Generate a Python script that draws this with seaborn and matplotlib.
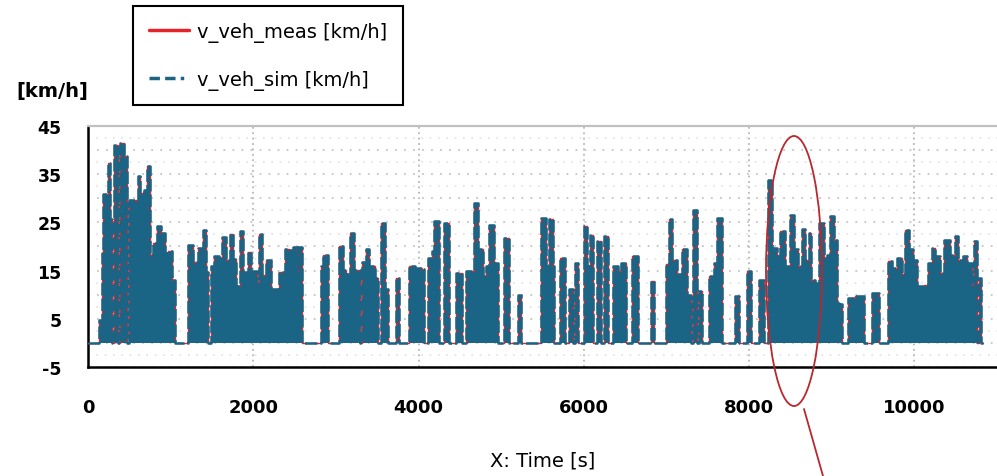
import numpy as np
import matplotlib
matplotlib.use("Agg")
import matplotlib.pyplot as plt
from matplotlib.patches import Ellipse
from matplotlib.lines import Line2D
import seaborn as sns

# Speed trace (step breakpoints: time [s] -> speed [km/h])
time_s = [
    0, 133, 165, 185, 238, 266, 294, 318, 366, 390, 438, 471, 495, 600, 632, 680,
    713, 745, 789, 834, 882, 930, 970, 1011, 1051,
    1212, 1272, 1332, 1386, 1422, 1453, 1494, 1530, 1586, 1627, 1675, 1721, 1755,
    1788, 1842, 1876, 1937, 1978, 2050, 2069, 2104, 2150, 2213, 2310, 2386, 2426,
    2480, 2530, 2545, 2585,
    2823, 2845, 2903,
    3036, 3084, 3125, 3173, 3213, 3286, 3318, 3358, 3398, 3467, 3507, 3547, 3588,
    3628, 3721, 3761, 3882, 3962, 4031, 4071, 4111, 4164, 4192, 4244, 4313, 4365,
    4454, 4526, 4575, 4667, 4715, 4776, 4816, 4856, 4917, 4957, 5037, 5089, 5198,
    5239,
    5481, 5541, 5581, 5621, 5641, 5714, 5771, 5822, 5863, 5891, 5931, 5996, 6044,
    6076, 6116, 6165, 6205, 6245, 6294, 6358, 6415, 6447, 6507, 6588, 6656, 6809,
    6850, 6990, 7031, 7071, 7131, 7192, 7244, 7293, 7324, 7373, 7393, 7433, 7514,
    7574, 7614, 7675, 7824, 7876, 7977, 8025, 8118, 8178,
    8230, 8276, 8339, 8379, 8432, 8500, 8541, 8593, 8641, 8682, 8722, 8754, 8803,
    8843, 8903, 8943, 8984, 9024, 9064, 9093, 9124, 9197, 9286, 9386, 9487, 9567,
    9680, 9728, 9789, 9849, 9890, 9938, 9978, 10030, 10111, 10171, 10211, 10252,
    10312, 10353, 10433, 10494, 10534, 10594, 10634, 10695, 10727, 10759, 10783,
    10807, 10830,
]
v_meas = [
    0, 4.8, 18.7, 30.8, 37.3, 25.6, 0, 41.1, 0, 41.4, 38.7, 0, 29.7, 34.6, 31.1, 31.8,
    36.7, 18.3, 20.7, 24.2, 22.8, 18.7, 19.0, 13.1, 0,
    20.3, 16.7, 19.6, 23.5, 14.7, 0, 16.0, 18.1, 17.6, 21.9, 17.1, 22.6, 17.4,
    11.9, 23.3, 14.7, 18.8, 15.0, 12.0, 22.6, 14.0, 17.1, 11.2, 14.7, 19.5, 19.2,
    19.8, 14.0, 19.8, 0,
    15.9, 18.3, 0,
    20.0, 15.2, 14.2, 22.8, 15.2, 0, 16.7, 19.4, 15.9, 13.5, 0, 24.9, 11.1,
    0, 13.5, 0, 15.9, 15.6, 15.4, 0, 17.6, 19.0, 25.2, 0, 24.9, 0,
    14.5, 0, 14.9, 29.0, 19.4, 13.8, 15.9, 24.5, 16.6, 0, 21.8, 0, 10.0,
    0,
    25.9, 15.9, 25.7, 15.9, 0, 17.6, 0, 11.1, 0, 16.6, 0, 24.2, 15.9,
    22.3, 0, 21.1, 0, 22.1, 0, 15.9, 14.9, 16.6, 0, 18.0, 0, 12.8,
    0, 16.3, 25.6, 17.3, 14.2, 19.4, 10.0, 0, 27.5, 0, 10.7, 0, 13.8,
    16.6, 25.9, 0, 9.7, 0, 14.9, 0, 13.1, 0,
    33.7, 19.7, 18.0, 23.2, 16.0, 26.6, 19.4, 15.9, 23.7, 17.3, 22.8, 13.1, 12.4,
    24.9, 17.6, 18.3, 26.4, 21.4, 8.3, 8.0, 0, 9.3, 9.8, 0, 10.4, 0,
    16.9, 15.6, 17.6, 14.2, 23.4, 19.4, 17.3, 11.8, 12.1, 16.6, 19.7, 18.0,
    14.5, 21.4, 18.3, 22.1, 17.3, 18.0, 16.6, 11.8, 21.1, 0, 13.5,
    0, 0,
]
v_sim = list(v_meas)

x_major = [0, 2000, 4000, 6000, 8000, 10000]
y_labeled = [-5, 5, 15, 25, 35, 45]

red = "#e3242b"
teal = "#1a6585"

sns.set_style("white")
plt.rcParams["font.family"] = ["DejaVu Sans"]
plt.rcParams["text.color"] = "black"
plt.rcParams["axes.labelcolor"] = "black"

fig = plt.figure(figsize=(9.97, 4.77), dpi=100)
ax = fig.add_axes([0.0883, 0.2285, 0.9117, 0.5053])

# dense trace fill (the signal oscillates too fast to resolve at this scale)
ax.fill_between(time_s, v_sim, step="post", color=teal, lw=0, zorder=2)
sns.lineplot(x=time_s, y=v_meas, ax=ax, color=red, lw=1.0, drawstyle="steps-post",
             estimator=None, sort=False, zorder=3)
sns.lineplot(x=time_s, y=v_sim, ax=ax, color=teal, lw=1.8, drawstyle="steps-post",
             linestyle=(0, (5, 1.2)), estimator=None, sort=False, zorder=4)

ax.set_xlim(0, 11000)
ax.set_ylim(-5, 45)
ax.set_xticks(x_major)
ax.set_xticks(np.arange(0, 11001, 1000), minor=True)
ax.set_yticks(np.arange(-5, 46, 5))
ax.set_yticklabels([str(v) if v in y_labeled else "" for v in np.arange(-5, 46, 5)])
ax.set_yticks(np.arange(-5, 46, 1), minor=True)

ax.tick_params(axis="both", which="major", direction="out", length=9, width=1.3, colors="black")
ax.tick_params(axis="both", which="minor", direction="out", length=4, width=1.0, colors="black")
ax.tick_params(axis="x", labelsize=13, pad=13)
ax.tick_params(axis="y", labelsize=12.5, pad=10)
for lbl in ax.get_xticklabels() + ax.get_yticklabels():
    lbl.set_fontweight("bold")

# dotted grid
ax.set_axisbelow(True)
ax.grid(True, which="major", axis="y", color="#c4c4c4", linestyle=(0, (1, 4)), lw=1.3)
ax.grid(True, which="major", axis="x", color="#b8b8b8", linestyle=(0, (1, 2)), lw=1.3)
for yy in np.arange(-2.5, 45, 5):
    ax.axhline(yy, color="#e2e2e2", linestyle=(0, (1, 4)), lw=1.2, zorder=0)

for side in ["left", "bottom"]:
    ax.spines[side].set_color("black")
    ax.spines[side].set_linewidth(1.8)
ax.spines["top"].set_color("#c0c0c0")
ax.spines["top"].set_linewidth(1.6)
ax.spines["right"].set_visible(False)

ax.set_xlabel("X: Time [s]", fontsize=14, labelpad=25)
ax.set_ylabel("")
fig.text(52 / 997, 1 - 92 / 477, "[km/h]", fontsize=14, fontweight="bold", ha="center", va="center")

handles = [
    Line2D([], [], color=red, lw=2.5),
    Line2D([], [], color=teal, lw=2.5, linestyle=(0, (3, 1.5, 3, 1.5, 1, 1.5))),
]
leg = fig.legend(handles, ["v_veh_meas [km/h]", "v_veh_sim [km/h]"], loc="upper left",
                 bbox_to_anchor=(133 / 997, 1 - 7 / 477), borderaxespad=0, fontsize=14,
                 frameon=True, fancybox=False, edgecolor="black", framealpha=1,
                 handlelength=2.1, handletextpad=0.4, borderpad=0.8, labelspacing=1.45)
leg.get_frame().set_linewidth(1.5)

# highlight annotation
fig.add_artist(Ellipse((794 / 997, 1 - 272 / 477), 56 / 997, 270 / 477, transform=fig.transFigure,
                       fill=False, edgecolor="#b8282e", lw=1.3))
fig.add_artist(Line2D([804 / 997, 823 / 997], [1 - 410 / 477, 0], transform=fig.transFigure,
                      color="#b8282e", lw=1.3))

fig.savefig("out.png", dpi=100)
